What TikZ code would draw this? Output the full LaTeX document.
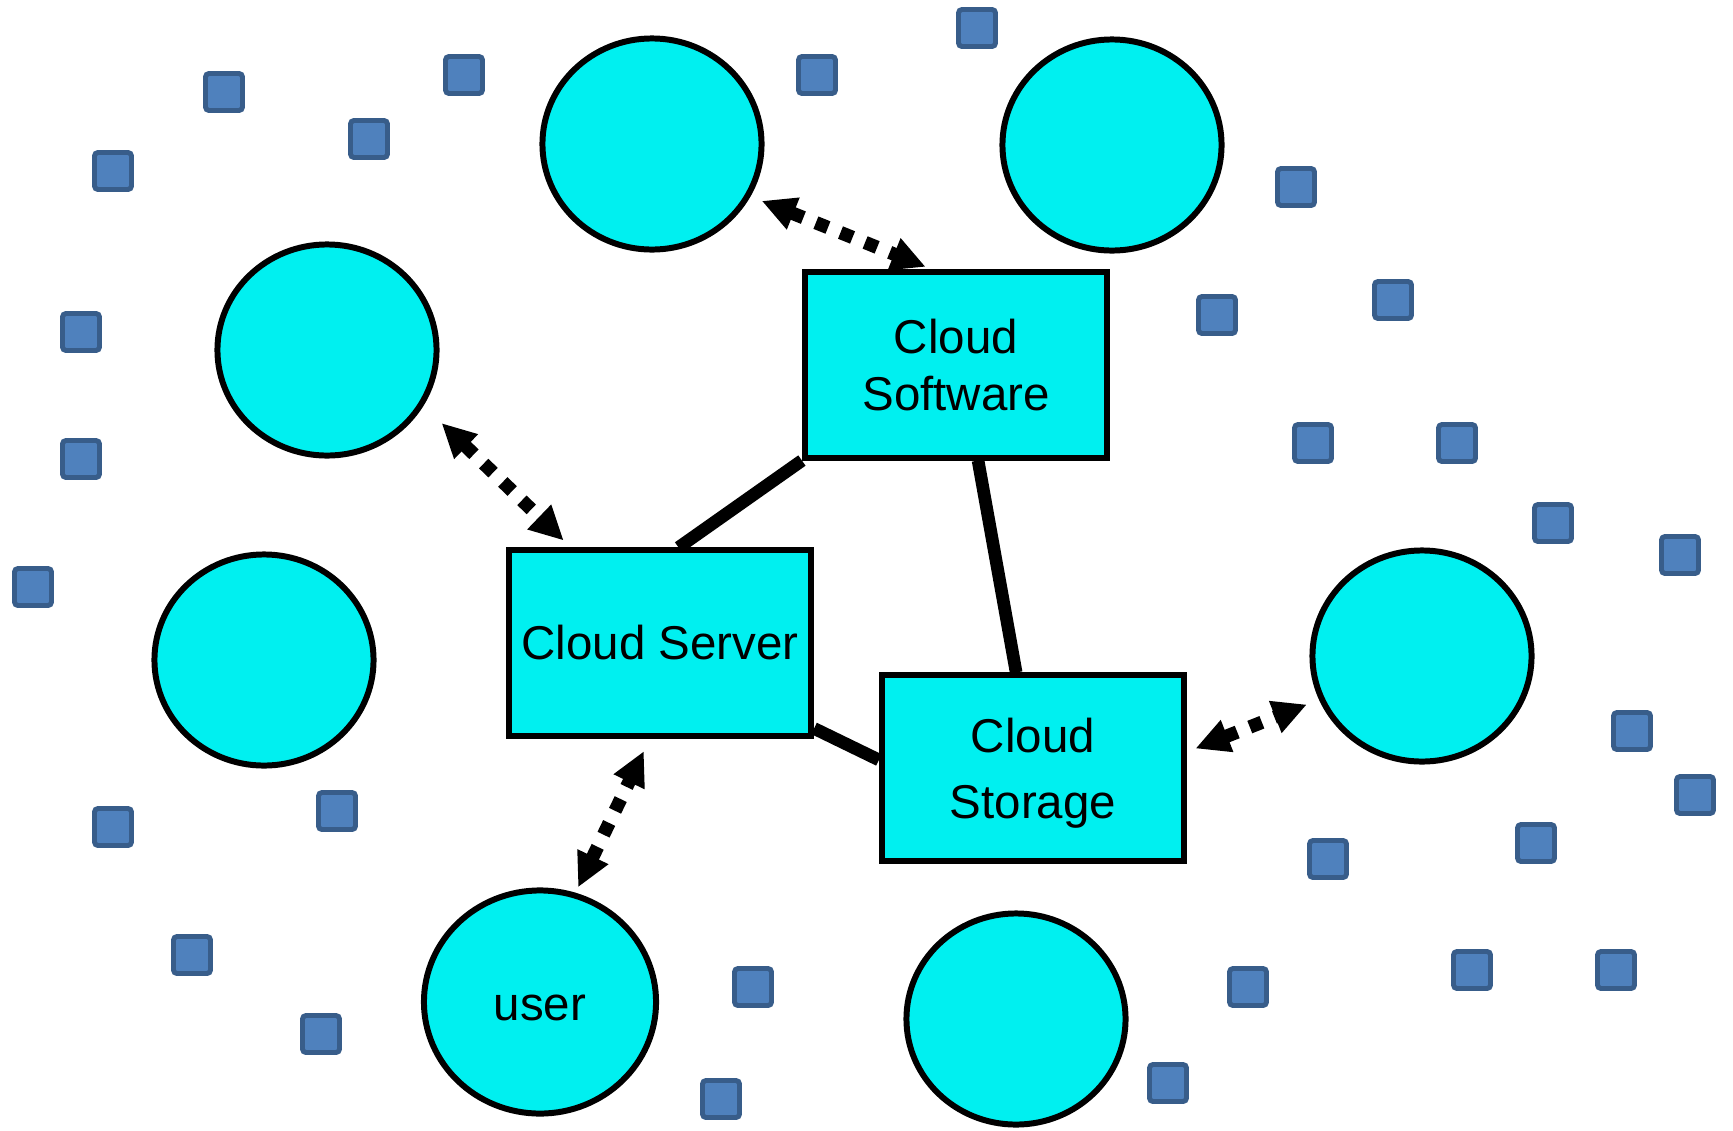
\documentclass[tikz,border=0pt]{standalone}
\usepackage{fontspec}
\setmainfont{Liberation Sans}
\usetikzlibrary{arrows.meta, shapes.geometric}

\definecolor{cloudcyan}{RGB}{0,240,240}
\definecolor{devfill}{RGB}{79,129,189}
\definecolor{devdraw}{RGB}{56,93,138}

\begin{document}
\begin{tikzpicture}
	[
		x=0.01cm, y=-0.01cm,
		peer/.style={ellipse, draw=black, line width=1.7pt, fill=cloudcyan, minimum width=2.19cm, minimum height=2.11cm, inner sep=0pt, font=\fontsize{13.5}{16}\selectfont},
		service/.style={rectangle, draw=black, line width=1.7pt, fill=cloudcyan, minimum width=3.02cm, minimum height=1.85cm, align=center, font=\fontsize{13.5}{16.4}\selectfont},
		device/.style={rectangle, draw=devdraw, line width=1.4pt, fill=devfill, rounded corners=1pt, minimum size=0.37cm, inner sep=0pt},
		link/.style={black, line width=3.6pt},
		dotlink/.style={black, line width=3.8pt, dash pattern=on 0.13cm off 0.135cm, {Triangle[length=0.34cm,width=0.32cm]}-{Triangle[length=0.34cm,width=0.32cm]}}
	]

	\useasboundingbox (0,0) rectangle (1733,1130);

	% Draw the small devices.
	\node[device] (d1) at (977,28) {};
	\node[device] (d2) at (817,75) {};
	\node[device] (d3) at (464,75) {};
	\node[device] (d4) at (224,92) {};
	\node[device] (d5) at (369,139) {};
	\node[device] (d6) at (113,171) {};
	\node[device] (d7) at (1296,187) {};
	\node[device] (d8) at (1393,300) {};
	\node[device] (d9) at (1217,315) {};
	\node[device] (d10) at (81,332) {};
	\node[device] (d11) at (1313,443) {};
	\node[device] (d12) at (1457,443) {};
	\node[device] (d13) at (81,459) {};
	\node[device] (d14) at (1553,523) {};
	\node[device] (d15) at (1680,555) {};
	\node[device] (d16) at (33,587) {};
	\node[device] (d17) at (1632,731) {};
	\node[device] (d18) at (1695,795) {};
	\node[device] (d19) at (113,827) {};
	\node[device] (d20) at (337,811) {};
	\node[device] (d21) at (1536,843) {};
	\node[device] (d22) at (1328,859) {};
	\node[device] (d23) at (192,955) {};
	\node[device] (d24) at (753,987) {};
	\node[device] (d25) at (1248,987) {};
	\node[device] (d26) at (1472,970) {};
	\node[device] (d27) at (1616,970) {};
	\node[device] (d28) at (321,1034) {};
	\node[device] (d29) at (721,1099) {};
	\node[device] (d30) at (1168,1083) {};

	% Draw the peers.
	\node[peer] (c1) at (652,144) {};
	\node[peer] (c2) at (1112,145) {};
	\node[peer] (c3) at (327,350) {};
	\node[peer] (c4) at (264,660) {};
	\node[peer] (c5) at (1422,656) {};
	\node[peer] (c6) at (1016,1019) {};
	\node[peer, minimum width=2.32cm, minimum height=2.23cm, text height=0.37cm] (user) at (540,1002) {user};

	% Draw the cloud services.
	\node[service] (sw) at (956,365) {Cloud\\Software};
	\node[service] (srv) at (660,643) {Cloud Server};
	\node[service, font=\fontsize{13.5}{18.8}\selectfont, text depth=0pt] (stor) at (1033,768) {Cloud\\Storage};

	% Connect the services.
	\draw[link] (sw.south west) -- (srv.79);
	\draw[link] (sw.283) -- (stor.100);
	\draw[link] (srv.-29) -- (stor.177);

	% Draw the access arrows.
	\draw[dotlink, shorten <=0.12cm, shorten >=0.07cm] (c1.-28) -- (sw.104);
	\draw[dotlink, shorten <=0.25cm, shorten >=0.1cm] (c3.-30) -- (srv.133);
	\draw[dotlink, shorten <=0.06cm, shorten >=0.14cm] (user.72) -- (srv.-96);
	\draw[dotlink, shorten <=0.09cm, shorten >=0.13cm] (stor.6) -- (c5.203);
\end{tikzpicture}
\end{document}
